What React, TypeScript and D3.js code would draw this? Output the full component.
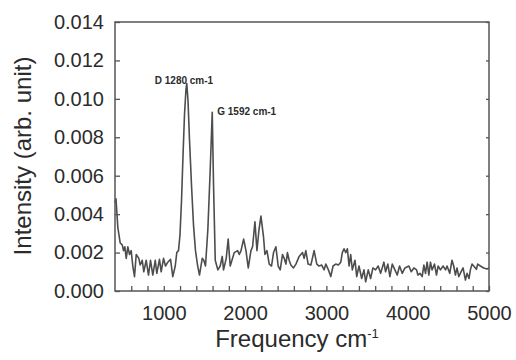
import { useEffect, useRef } from "react";
import * as d3 from "d3";

// Raman spectrum: frequency (cm-1) and intensity (arb. unit)
const freqs = [
  400, 412, 435, 464, 489, 505, 521, 538, 558, 579, 599, 619, 640, 661, 693, 710, 735, 754, 784, 812,
  837, 865, 895, 914, 947, 968, 997, 1021, 1050, 1083, 1111, 1141, 1160, 1181,
  1199, 1218, 1237, 1255, 1273, 1283, 1298, 1316, 1341, 1366, 1390, 1415, 1439, 1473, 1492, 1513,
  1542, 1571, 1596, 1612, 1633, 1665, 1694, 1719, 1735, 1768, 1792, 1817,
  1867, 1908, 1929, 1950, 1982, 2011, 2039, 2072, 2092, 2121, 2146, 2171, 2195, 2227, 2244, 2269,
  2297, 2325, 2350, 2379, 2407, 2432, 2460, 2481, 2502, 2521, 2542, 2563, 2595, 2625, 2665, 2706,
  2726, 2747, 2775, 2809, 2849, 2882, 2910, 2943, 2972, 2993, 3025, 3054, 3082, 3115, 3147, 3177,
  3196, 3217, 3238, 3258, 3279, 3299, 3319, 3352, 3373, 3401, 3434, 3462, 3483, 3515, 3544, 3572,
  3605, 3637, 3667, 3707, 3728, 3756, 3781, 3810, 3843, 3871, 3900, 3933, 3966, 4015, 4043, 4076,
  4109, 4125, 4150, 4178, 4199, 4219, 4239, 4260, 4280, 4300, 4330, 4354, 4374, 4403, 4435, 4465,
  4484, 4517, 4545, 4566, 4587, 4607, 4628, 4656, 4681, 4710, 4730, 4754, 4771, 4791, 4812, 4845,
  4861, 4894, 4935, 4975, 5000,
];

const intensity = [
  0.0046, 0.0048, 0.0033, 0.0025, 0.0024, 0.0021, 0.0023, 0.0017, 0.0023, 0.0019, 0.0021, 0.0013, 0.00075, 0.0019, 0.0017, 0.00135, 0.0016, 0.001, 0.0016, 0.00083,
  0.0016, 0.00083, 0.0016, 0.00092, 0.00165, 0.001, 0.0017, 0.0013, 0.0015, 0.00165, 0.00075, 0.0013, 0.002, 0.0021,
  0.0029, 0.0047, 0.0071, 0.0092, 0.0105, 0.0108, 0.0099, 0.0079, 0.0055, 0.0034, 0.0021, 0.00135, 0.00083, 0.0017, 0.0016, 0.0013,
  0.0032, 0.0063, 0.0093, 0.0055, 0.0016, 0.0011, 0.0013, 0.0018, 0.0011, 0.0017, 0.0027, 0.0013,
  0.002, 0.0021, 0.0019, 0.0021, 0.0027, 0.0021, 0.0012, 0.0021, 0.0023, 0.0036, 0.0021, 0.0032, 0.0039, 0.0028, 0.0019, 0.0021,
  0.0014, 0.0013, 0.002, 0.0023, 0.0013, 0.0011, 0.0019, 0.0017, 0.0014, 0.002, 0.0016, 0.00135, 0.0012, 0.0014, 0.0018, 0.002,
  0.0017, 0.0021, 0.0014, 0.00135, 0.0021, 0.0014, 0.0013, 0.00135, 0.0011, 0.0014, 0.0011, 0.00075, 0.0013, 0.0014, 0.00135, 0.0015,
  0.002, 0.0022, 0.002, 0.0022, 0.0013, 0.0019, 0.0011, 0.0016, 0.00075, 0.0013, 0.00065, 0.0011, 0.00048, 0.0011, 0.00065, 0.0012,
  0.0011, 0.0013, 0.00092, 0.0015, 0.001, 0.0014, 0.00075, 0.0014, 0.0011, 0.00083, 0.0013, 0.00092, 0.0012, 0.0013, 0.001, 0.0012,
  0.0011, 0.00083, 0.00092, 0.00075, 0.00135, 0.00092, 0.0015, 0.00083, 0.0015, 0.0011, 0.0014, 0.00083, 0.0013, 0.0011, 0.0013, 0.0011,
  0.0013, 0.00092, 0.0016, 0.0013, 0.00083, 0.0012, 0.00075, 0.001, 0.0012, 0.00057, 0.00092, 0.00065, 0.0011, 0.0014, 0.0013, 0.00113,
  0.0014, 0.0013, 0.0012, 0.00115, 0.0012,
];

const yTicks = [0, 0.002, 0.004, 0.006, 0.008, 0.01, 0.012, 0.014];
const xTicks = [600, 800, 1000, 1200, 1400, 1600, 1800, 2000, 2200, 2400, 2600, 2800, 3000, 3200, 3400, 3600, 3800, 4000, 4200, 4400, 4600, 4800];
const xTickLabels = [1000, 2000, 3000, 4000, 5000];

const peakLabels = ["D 1280 cm-1", "G 1592 cm-1"];
const peakFreqs = [1283, 1596];
const peakValues = [0.0108, 0.0093];

function App() {
  const svgRef = useRef<SVGSVGElement>(null);

  useEffect(() => {
    const width = 516;
    const height = 360;
    const margin = { top: 22, right: 27, bottom: 69, left: 115 };
    const font = "'Liberation Sans', Arial, sans-serif";
    const ink = "#2b2b2b";
    const frame = "#555";

    const svg = d3.select(svgRef.current).attr("width", width).attr("height", height);
    svg.selectAll("*").remove();

    const x = d3.scaleLinear().domain([400, 5000]).range([margin.left, width - margin.right]);
    const y = d3.scaleLinear().domain([0, 0.014]).range([height - margin.bottom, margin.top]);

    svg.append("rect").attr("width", width).attr("height", height).attr("fill", "#fff");

    const points = freqs.map((f, i) => [f, intensity[i]] as [number, number]);
    const line = d3
      .line<[number, number]>()
      .x(d => x(d[0]))
      .y(d => y(d[1]));

    svg.append("path")
      .datum(points)
      .attr("fill", "none")
      .attr("stroke", "#4d4d4d")
      .attr("stroke-width", 1.6)
      .attr("stroke-linejoin", "round")
      .attr("d", line);

    // bottom axis, ticks pointing inward
    const xAxis = d3
      .axisBottom(x)
      .tickValues(xTicks.concat([5000]))
      .tickSizeInner(-5)
      .tickSizeOuter(0)
      .tickPadding(15)
      .tickFormat(d => (xTickLabels.includes(+d) ? String(d) : ""));
    const gx = svg.append("g")
      .attr("transform", `translate(0,${height - margin.bottom})`)
      .call(xAxis);

    const yAxis = d3
      .axisLeft(y)
      .tickValues(yTicks)
      .tickSizeInner(-5)
      .tickSizeOuter(0)
      .tickPadding(11)
      .tickFormat(d3.format(".3f"));
    const gy = svg.append("g")
      .attr("transform", `translate(${margin.left},0)`)
      .call(yAxis);

    const yRight = d3.axisRight(y).tickValues(yTicks).tickSizeInner(-3).tickSizeOuter(0).tickFormat(() => "");
    const gr = svg.append("g")
      .attr("transform", `translate(${width - margin.right},0)`)
      .call(yRight);

    [gx, gy, gr].forEach(g => {
      g.select(".domain").remove();
      g.selectAll("line").attr("stroke", frame).attr("stroke-width", 1.3);
      g.selectAll("text")
        .attr("fill", ink)
        .style("font-family", font)
        .style("font-size", "20px");
    });

    svg.append("rect")
      .attr("x", margin.left)
      .attr("y", margin.top)
      .attr("width", width - margin.left - margin.right)
      .attr("height", height - margin.top - margin.bottom)
      .attr("fill", "none")
      .attr("stroke", frame)
      .attr("stroke-width", 1.5);

    // peak annotations
    svg.append("text")
      .attr("x", x(peakFreqs[0]) - 32)
      .attr("y", y(peakValues[0]) + 1)
      .attr("fill", ink)
      .style("font-family", font)
      .style("font-size", "10px")
      .style("font-weight", "bold")
      .text(peakLabels[0]);
    svg.append("text")
      .attr("x", x(peakFreqs[1]) + 5)
      .attr("y", y(peakValues[1]) + 3)
      .attr("fill", ink)
      .style("font-family", font)
      .style("font-size", "10px")
      .style("font-weight", "bold")
      .text(peakLabels[1]);

    // axis titles
    svg.append("text")
      .attr("transform", `translate(31,156) rotate(-90)`)
      .attr("text-anchor", "middle")
      .attr("fill", ink)
      .style("font-family", font)
      .style("font-size", "24px")
      .text("Intensity (arb. unit)");

    const xt = svg.append("text")
      .attr("x", 297)
      .attr("y", 347)
      .attr("text-anchor", "middle")
      .attr("fill", ink)
      .style("font-family", font)
      .style("font-size", "24px");
    xt.append("tspan").text("Frequency cm");
    xt.append("tspan").attr("dy", -9).style("font-size", "13px").text("-1");
  }, []);

  return <svg ref={svgRef} style={{ position: "absolute", left: 0, top: 0 }}></svg>;
}

export default App;
